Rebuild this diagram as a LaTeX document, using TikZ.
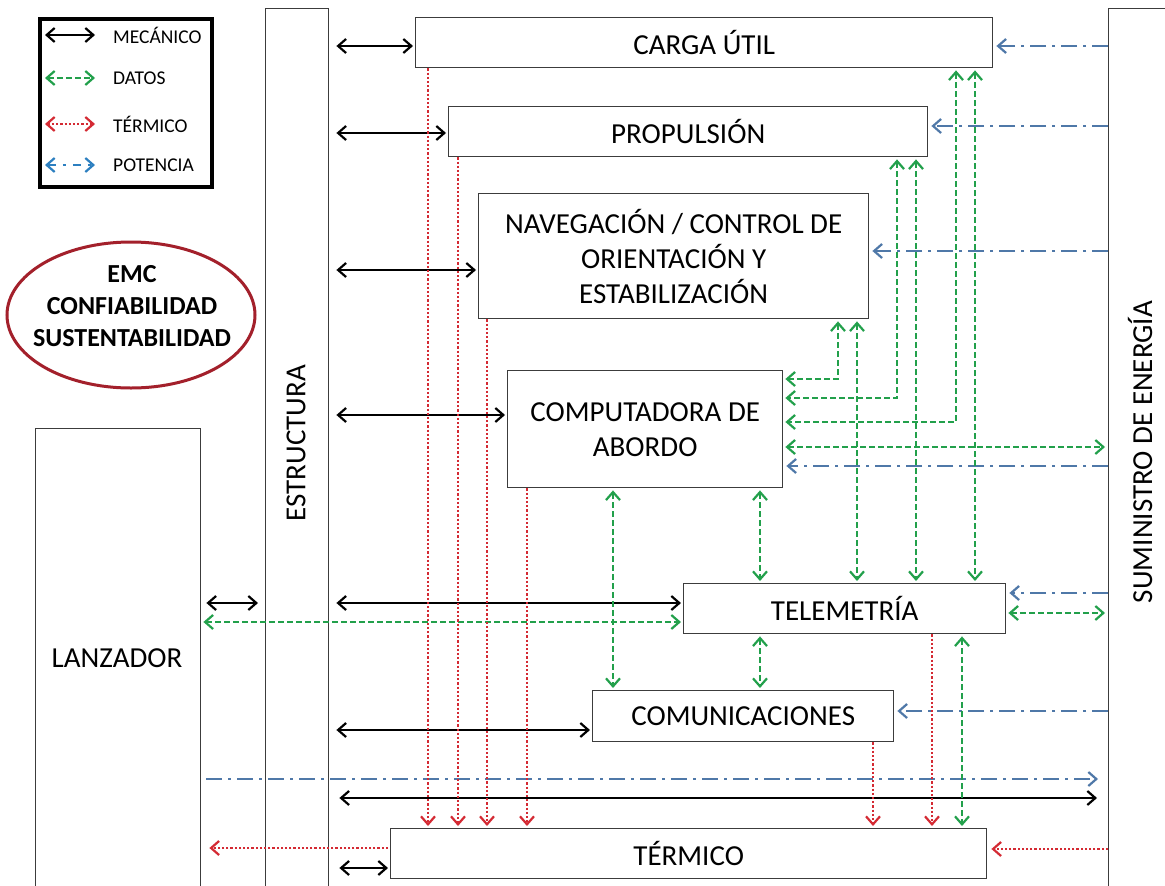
\documentclass[tikz,border=0pt]{standalone}
\usepackage{fontspec}
\setmainfont{Carlito}
\usetikzlibrary{arrows.meta,shapes.geometric}
\definecolor{dgreen}{HTML}{22A04B}
\definecolor{dred}{HTML}{D42A33}
\definecolor{pblue}{HTML}{4F78A8}
\definecolor{lblue}{HTML}{2C7FC0}
\definecolor{ered}{HTML}{A3202B}
\definecolor{bgray}{HTML}{3C3C3C}
\begin{document}
\begin{tikzpicture}[x=1pt,y=-1pt,
  >={Straight Barb[length=8pt,width=14pt]},
  mech/.style={draw=black,line width=2.2pt,<->},
  data/.style={draw=dgreen,line width=2.2pt,dash pattern=on 6pt off 3pt},
  therm/.style={draw=dred,line width=2.2pt,dash pattern=on 2.2pt off 2pt},
  pow/.style={draw=pblue,line width=2.2pt,dash pattern=on 16pt off 6pt on 3pt off 6pt},
  blk/.style={draw=bgray,line width=1.4pt,fill=white,inner sep=0pt,anchor=north west,align=center,font=\fontsize{29}{35}\selectfont},
  col/.style={draw=bgray,line width=1.4pt,fill=white,inner sep=0pt,anchor=north west},
  lbl/.style={inner sep=0pt,font=\fontsize{29}{35}\selectfont},
  legtxt/.style={inner sep=0pt,anchor=west,font=\fontsize{19.5}{22}\selectfont},
]
\useasboundingbox (0,0) rectangle (1165,886);
\fill[white] (0,0) rectangle (1165,886);
\clip (0,0) rectangle (1165,886);

% columns
\node[col, minimum width=63, minimum height=900] (estr) at (265,8) {};
\node[col, minimum width=165, minimum height=500] (lanz) at (35,428) {};
\node[col, minimum width=100, minimum height=900] (sumi) at (1108,8) {};
\node[lbl, rotate=90] (estrtxt) at (296,443) {ESTRUCTURA};
\node[lbl] (lanztxt) at (117,658) {LANZADOR};
\node[lbl, rotate=90] (sumitxt) at (1140,452) {SUMINISTRO DE ENERGÍA};

% legend
\node[draw=black, line width=3.5pt, minimum width=172, minimum height=168, anchor=north west, inner sep=0pt] (leg) at (38,17) {};
\draw[mech] (45,35) -- (95,35);
\draw[data,<->] (45,78) -- (95,78);
\draw[therm,<->] (45,124) -- (95,124);
\draw[draw=lblue,line width=2.2pt,dash pattern=on 8pt off 7pt on 3pt off 7pt,<->] (45,165) -- (95,165);
\node[legtxt] (lg1) at (113,35) {MECÁNICO};
\node[legtxt] (lg2) at (113,78) {DATOS};
\node[legtxt] (lg3) at (113,124) {TÉRMICO};
\node[legtxt] (lg4) at (113,165) {POTENCIA};

% ellipse
\node[draw=ered, line width=3pt, ellipse, minimum width=248, minimum height=146] (ell) at (131,315) {};
\node[inner sep=0pt, align=center, font=\bfseries\fontsize{26}{32}\selectfont] (elltxt) at (132,306) {EMC\\CONFIABILIDAD\\SUSTENTABILIDAD};

% boxes
\node[blk, minimum width=577, minimum height=50] (carga) at (415,17) {CARGA ÚTIL};
\node[blk, minimum width=479, minimum height=50] (prop) at (448,106) {PROPULSIÓN};
\node[blk, minimum width=390, minimum height=125] (nav) at (478,193) {NAVEGACIÓN / CONTROL DE\\ORIENTACIÓN Y\\ESTABILIZACIÓN};
\node[blk, minimum width=275, minimum height=117] (comp) at (507,370) {COMPUTADORA DE\\ABORDO};
\node[blk, minimum width=322, minimum height=50] (telem) at (683,583) {TELEMETRÍA};
\node[blk, minimum width=301, minimum height=51] (comun) at (592,690) {COMUNICACIONES};
\node[blk, minimum width=596, minimum height=50] (termico) at (390,828) {TÉRMICO};

% coordinates
\coordinate (t1) at (428,0); \coordinate (t2) at (458,0); \coordinate (t3) at (487,0);
\coordinate (t4) at (527,0); \coordinate (t5) at (873,0); \coordinate (t6) at (932,0);
\coordinate (d1) at (838,0); \coordinate (d2) at (857,0); \coordinate (d3) at (897,0);
\coordinate (d4) at (916,0); \coordinate (d5) at (956,0); \coordinate (d6) at (975,0);
\coordinate (d7) at (613,0); \coordinate (d8) at (760,0); \coordinate (d9) at (962,0);
\coordinate (ym1) at (0,46); \coordinate (ym2) at (0,133); \coordinate (ym3) at (0,270);
\coordinate (ym4) at (0,415); \coordinate (ym5) at (0,603); \coordinate (ym6) at (0,730);
\coordinate (ym7) at (0,798); \coordinate (ym8) at (0,868);
\coordinate (yp1) at (0,46); \coordinate (yp2) at (0,126); \coordinate (yp3) at (0,251);
\coordinate (yp4) at (0,466); \coordinate (yp5) at (0,593); \coordinate (yp6) at (0,711);
\coordinate (yp7) at (0,779);
\coordinate (yd1) at (0,622); \coordinate (yd2) at (0,447); \coordinate (yd3) at (0,613);
\coordinate (yc1) at (0,379); \coordinate (yc2) at (0,398); \coordinate (yc3) at (0,422);
\coordinate (yt1) at (0,848); \coordinate (yt2) at (0,849);

% power
\draw[pow,->,shorten >=3pt] (sumi.west |- yp1) -- (carga.east |- yp1);
\draw[pow,->,shorten >=3pt] (sumi.west |- yp2) -- (prop.east |- yp2);
\draw[pow,->,shorten >=3pt] (sumi.west |- yp3) -- (nav.east |- yp3);
\draw[pow,->,shorten >=3pt] (sumi.west |- yp4) -- (comp.east |- yp4);
\draw[pow,->,shorten >=3pt] (sumi.west |- yp5) -- (telem.east |- yp5);
\draw[pow,->,shorten >=3pt] (sumi.west |- yp6) -- (comun.east |- yp6);
\draw[pow,->,shorten <=5pt,shorten >=10pt] (lanz.east |- yp7) -- (sumi.west |- yp7);

% mechanical
\draw[mech,shorten <=7pt,shorten >=2pt] (estr.east |- ym1) -- (carga.west |- ym1);
\draw[mech,shorten <=7pt,shorten >=2pt] (estr.east |- ym2) -- (prop.west |- ym2);
\draw[mech,shorten <=7pt,shorten >=2pt] (estr.east |- ym3) -- (nav.west |- ym3);
\draw[mech,shorten <=7pt,shorten >=2pt] (estr.east |- ym4) -- (comp.west |- ym4);
\draw[mech,shorten <=7pt,shorten >=2pt] (estr.east |- ym5) -- (telem.west |- ym5);
\draw[mech,shorten <=7pt,shorten >=2pt] (estr.east |- ym6) -- (comun.west |- ym6);
\draw[mech,shorten <=10pt,shorten >=11pt] (estr.east |- ym7) -- (sumi.west |- ym7);
\draw[mech,shorten <=10pt,shorten >=2pt] (estr.east |- ym8) -- (termico.west |- ym8);
\draw[mech,shorten <=5pt,shorten >=7pt] (lanz.east |- ym5) -- (estr.west |- ym5);

% data
\draw[data,<->,shorten <=2pt,shorten >=2pt] (lanz.east |- yd1) -- (telem.west |- yd1);
\draw[data,<->,shorten <=2pt,shorten >=3pt] (comp.east |- yd2) -- (sumi.west |- yd2);
\draw[data,<->,shorten <=2pt,shorten >=3pt] (telem.east |- yd3) -- (sumi.west |- yd3);
\draw[data,<->,shorten <=2pt,shorten >=2pt] (nav.south -| d1) -- (d1 |- yc1) -- (comp.east |- yc1);
\draw[data,<->,shorten <=2pt,shorten >=2pt] (prop.south -| d3) -- (d3 |- yc2) -- (comp.east |- yc2);
\draw[data,<->,shorten <=2pt,shorten >=2pt] (carga.south -| d5) -- (d5 |- yc3) -- (comp.east |- yc3);
\draw[data,<->,shorten <=2pt,shorten >=2pt] (nav.south -| d2) -- (telem.north -| d2);
\draw[data,<->,shorten <=2pt,shorten >=2pt] (prop.south -| d4) -- (telem.north -| d4);
\draw[data,<->,shorten <=2pt,shorten >=2pt] (carga.south -| d6) -- (telem.north -| d6);
\draw[data,<->,shorten <=2pt,shorten >=2pt] (comp.south -| d7) -- (comun.north -| d7);
\draw[data,<->,shorten <=2pt,shorten >=2pt] (comp.south -| d8) -- (telem.north -| d8);
\draw[data,<->,shorten <=2pt,shorten >=2pt] (telem.south -| d8) -- (comun.north -| d8);
\draw[data,<->,shorten <=2pt,shorten >=2pt] (telem.south -| d9) -- (termico.north -| d9);

% thermal
\draw[therm,->,shorten >=2pt] (carga.south -| t1) -- (termico.north -| t1);
\draw[therm,->,shorten >=2pt] (prop.south -| t2) -- (termico.north -| t2);
\draw[therm,->,shorten >=2pt] (nav.south -| t3) -- (termico.north -| t3);
\draw[therm,->,shorten >=2pt] (comp.south -| t4) -- (termico.north -| t4);
\draw[therm,->,shorten >=2pt] (comun.south -| t5) -- (termico.north -| t5);
\draw[therm,->,shorten >=2pt] (telem.south -| t6) -- (termico.north -| t6);
\draw[therm,->,shorten <=2pt,shorten >=8pt] (termico.west |- yt1) -- (lanz.east |- yt1);
\draw[therm,->,shorten >=4pt] (sumi.west |- yt2) -- (termico.east |- yt2);
\end{tikzpicture}
\end{document}
